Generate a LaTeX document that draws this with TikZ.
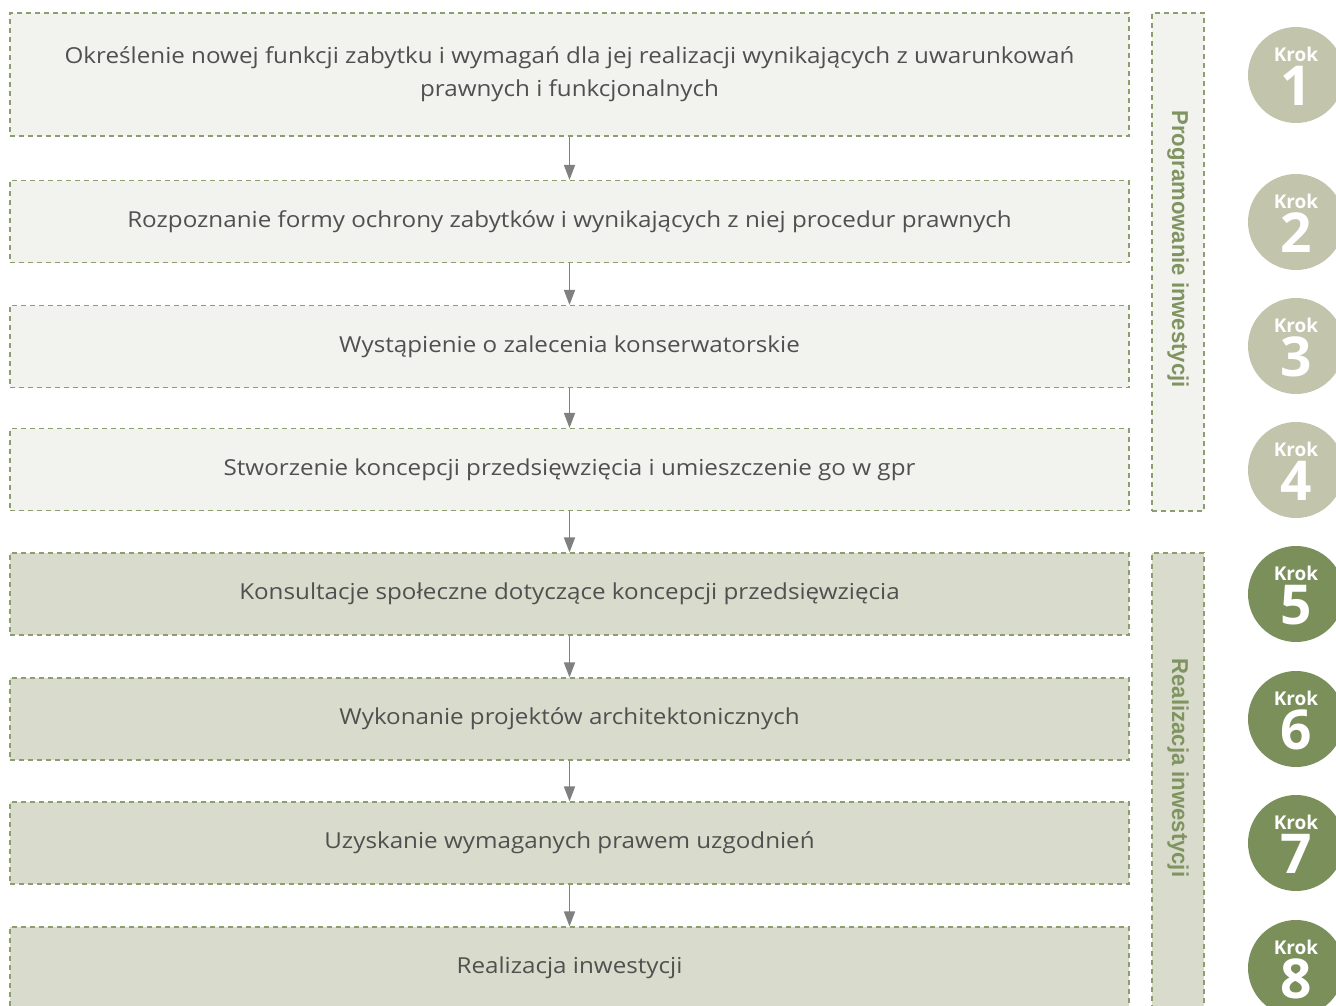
\documentclass[tikz,border=0pt]{standalone}
\usepackage{fontspec}
\setmainfont[FakeStretch=1.1]{Open Sans}
\newfontfamily\narrowfont[FakeStretch=0.96]{Liberation Sans}
\newfontfamily\krokfont{Open Sans}
\usetikzlibrary{arrows.meta}
\definecolor{bordergreen}{HTML}{8C9E6E}
\definecolor{lightfill}{HTML}{F2F2EE}
\definecolor{darkfill}{HTML}{D9DBCC}
\definecolor{lightcirc}{HTML}{C2C5AC}
\definecolor{darkcirc}{HTML}{7A8F5A}
\definecolor{boxtext}{HTML}{505050}
\definecolor{sidetext}{HTML}{7F9460}
\definecolor{arrowgray}{HTML}{808080}
\newcommand\kroktxt[1]{\vbox{\baselineskip=44pt\lineskiplimit=-100pt\lineskip=0pt
  \halign{\hfil##\hfil\cr
  {\krokfont\bfseries\fontsize{19}{19}\selectfont Krok}\cr
  {\krokfont\bfseries\fontsize{55}{55}\selectfont #1}\cr}}}
\tikzset{
  stepboxbase/.style={draw=bordergreen, line width=1.1pt, dash pattern=on 5pt off 4pt,
    minimum width=1119pt, inner sep=0pt, text=boxtext, font=\fontsize{22}{33}\selectfont, align=center},
  lightbox/.style={stepboxbase, fill=lightfill, minimum height=123pt},
  darkbox/.style={stepboxbase, fill=darkfill, minimum height=82pt},
  lbox/.style={stepboxbase, fill=lightfill, minimum height=82pt},
  sidebar/.style={draw=bordergreen, line width=1.1pt, dash pattern=on 5pt off 4pt, minimum width=52pt, inner sep=0pt},
  sidelabel/.style={rotate=-90, text=sidetext, font=\narrowfont\bfseries\fontsize{23}{24}\selectfont},
  krokcirc/.style={circle, minimum size=96pt, inner sep=0pt},
  kroktext/.style={text=white, inner sep=0pt},
  flowarrow/.style={draw=arrowgray, line width=1.6pt, -{Triangle[length=15pt,width=11pt]}}
}
\begin{document}
\begin{tikzpicture}[x=1pt,y=-1pt]
\useasboundingbox (0,0) rectangle (1336,1006);
\begin{scope}
\clip (0,0) rectangle (1336,1006);
% main boxes
\node[lightbox] (b1) at (569.5,74.5) {Określenie nowej funkcji zabytku i wymagań dla jej realizacji wynikających z uwarunkowań\\prawnych i funkcjonalnych};
\node[lbox] (b2) at (569.5,221.5) {Rozpoznanie formy ochrony zabytków i wynikających z niej procedur prawnych};
\node[lbox] (b3) at (569.5,346.5) {Wystąpienie o zalecenia konserwatorskie};
\node[lbox] (b4) at (569.5,469.5) {Stworzenie koncepcji przedsięwzięcia i umieszczenie go w gpr};
\node[darkbox] (b5) at (569.5,594) {Konsultacje społeczne dotyczące koncepcji przedsięwzięcia};
\node[darkbox] (b6) at (569.5,719) {Wykonanie projektów architektonicznych};
\node[darkbox] (b7) at (569.5,843) {Uzyskanie wymaganych prawem uzgodnień};
\node[darkbox] (b8) at (569.5,968) {Realizacja inwestycji};
% arrows
\draw[flowarrow] (b1.south) -- (b2.north);
\draw[flowarrow] (b2.south) -- (b3.north);
\draw[flowarrow] (b3.south) -- (b4.north);
\draw[flowarrow] (b4.south) -- (b5.north);
\draw[flowarrow] (b5.south) -- (b6.north);
\draw[flowarrow] (b6.south) -- (b7.north);
\draw[flowarrow] (b7.south) -- (b8.north);
% side bars
\node[sidebar, fill=lightfill, minimum height=498pt] (s1) at (1178,262) {};
\node[sidebar, fill=darkfill, minimum height=470pt] (s2) at (1178,788) {};
\node[sidelabel] (l1) at (1178,249) {Programowanie inwestycji};
\node[sidelabel] (l2) at (1178,768) {Realizacja inwestycji};
% circles
\foreach \n/\y/\c in {1/75/lightcirc,2/222/lightcirc,3/346/lightcirc,4/470/lightcirc,5/594/darkcirc,6/719/darkcirc,7/843/darkcirc,8/968/darkcirc}{
  \node[krokcirc, fill=\c] (k\n) at (1296,\y) {};
  \node[kroktext] (kt\n) at ([yshift=-1.5pt]k\n.center) {\kroktxt{\n}};
}
\end{scope}
\end{tikzpicture}
\end{document}
